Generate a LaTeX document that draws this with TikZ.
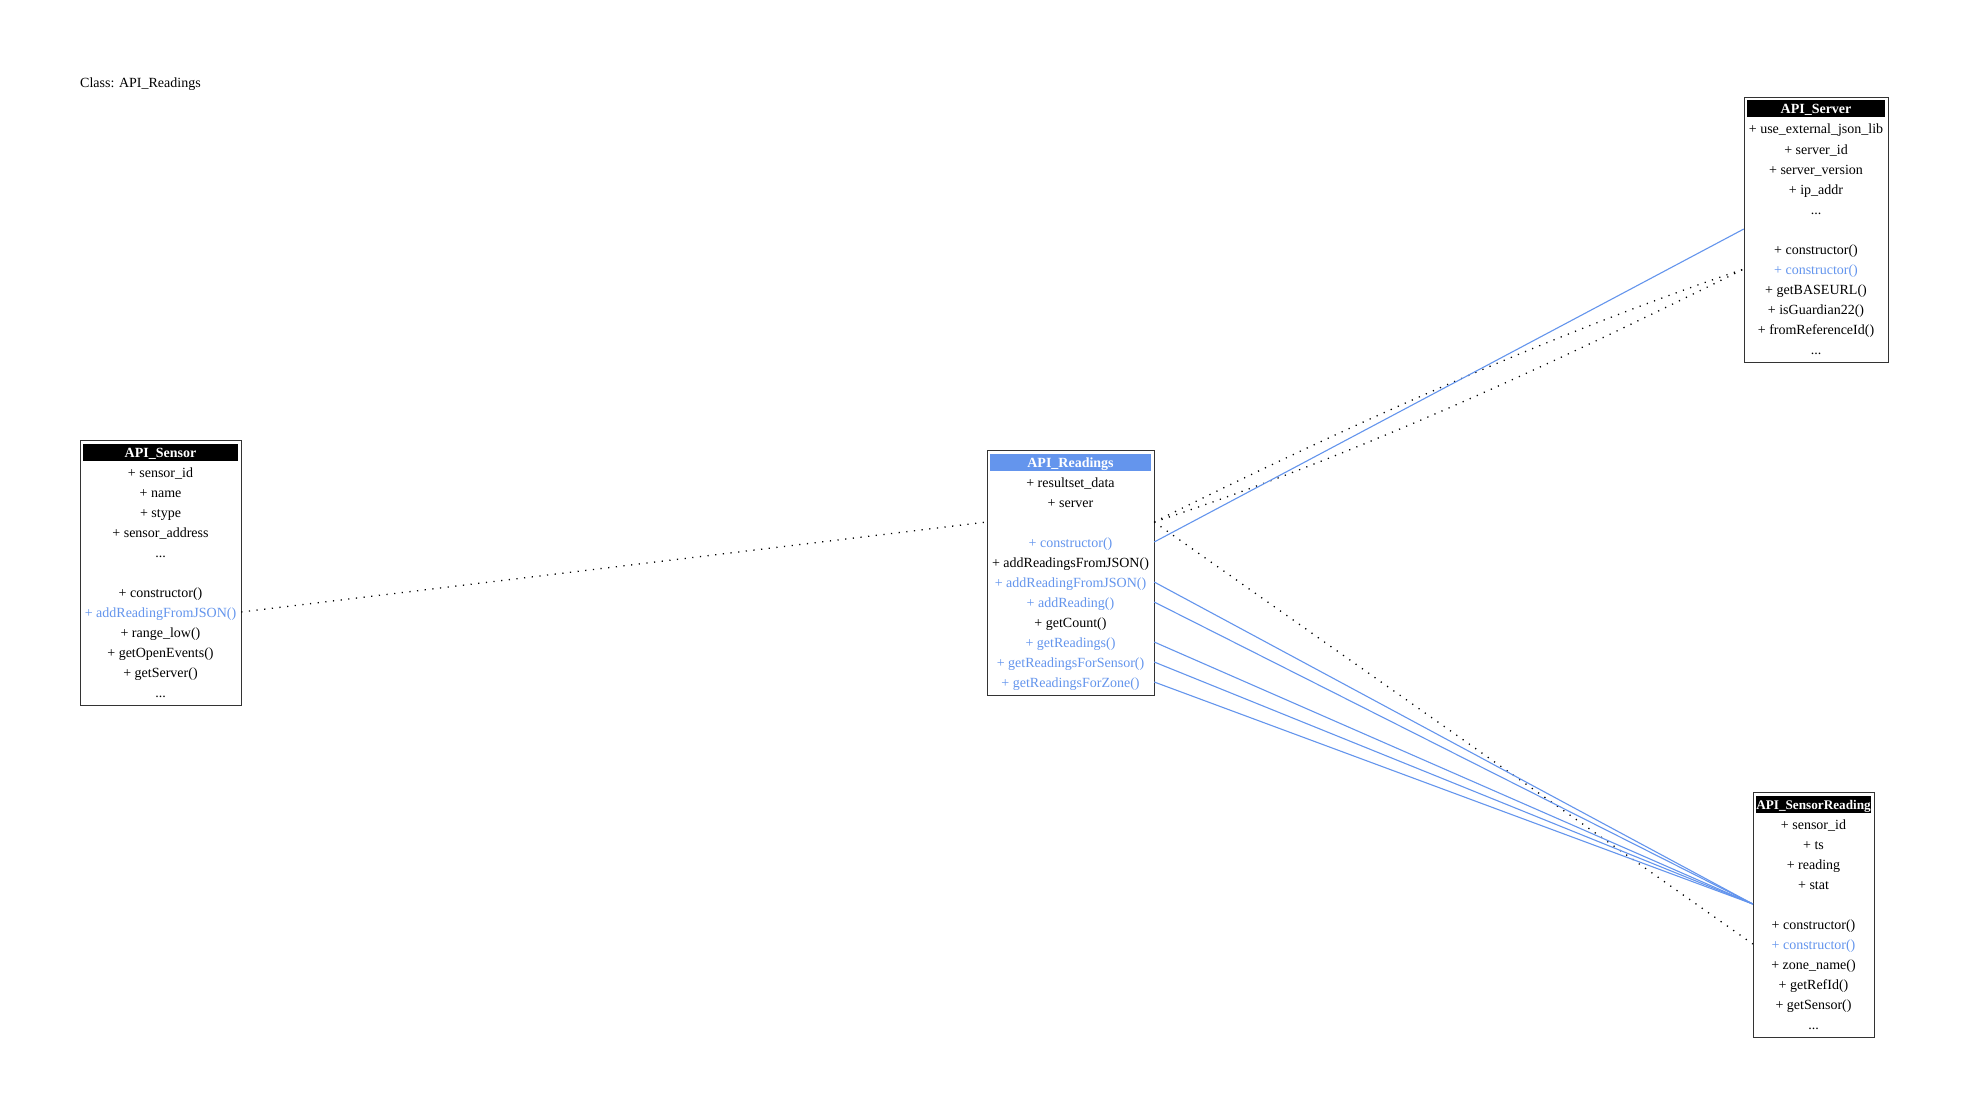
\documentclass[tikz,border=0pt]{standalone}
\usepackage{fontspec}
\setmainfont{Liberation Serif}
\definecolor{cblue}{HTML}{6495ED}
\definecolor{boxline}{HTML}{333333}
\begin{document}
\begin{tikzpicture}[x=1pt,y=-1pt,
  every node/.style={font=\fontsize{14}{16}\selectfont, inner sep=0pt, text height=10pt, text depth=0pt},
  cbox/.style={draw=boxline, line width=1.2pt, fill=white},
  row/.style={minimum height=20pt, align=center},
  hdr/.style={minimum height=17pt, text=white, font=\fontsize{14}{16}\selectfont\bfseries},
  dotline/.style={line width=1.3pt, dash pattern=on 1.2pt off 6.5pt, black},
  blueline/.style={line width=1.1pt, cblue}
]
\useasboundingbox (0,0) rectangle (1967,1113);
\fill[white] (0,0) rectangle (1967,1113);

\node[anchor=west] (title) at (80,83) {Class: API\_Readings};

% ---------- API_Sensor ----------
\node[cbox, minimum width=161pt, minimum height=265pt, anchor=north west] (sensor) at (80,440) {};
\node[hdr, fill=black, minimum width=155pt] (s0) at (160.5,452) {API\_Sensor};
\begin{scope}[every node/.append style={row, minimum width=161pt}]
\node (s1) at (160.5,472) {+ sensor\_id};
\node (s2) at (160.5,492) {+ name};
\node (s3) at (160.5,512) {+ stype};
\node (s4) at (160.5,532) {+ sensor\_address};
\node (s5) at (160.5,552) {...};
\node (s6) at (160.5,572) {};
\node (s7) at (160.5,592) {+ constructor()};
\node[text=cblue] (s8) at (160.5,612) {+ addReadingFromJSON()};
\node (s9) at (160.5,632) {+ range\_low()};
\node (s10) at (160.5,652) {+ getOpenEvents()};
\node (s11) at (160.5,672) {+ getServer()};
\node (s12) at (160.5,692) {...};
\end{scope}

% ---------- API_Readings ----------
\node[cbox, minimum width=167pt, minimum height=245pt, anchor=north west] (readings) at (987,450) {};
\node[hdr, fill=cblue, minimum width=161pt] (r0) at (1070.5,462) {API\_Readings};
\begin{scope}[every node/.append style={row, minimum width=167pt}]
\node (r1) at (1070.5,482) {+ resultset\_data};
\node (r2) at (1070.5,502) {+ server};
\node (r3) at (1070.5,522) {};
\node[text=cblue] (r4) at (1070.5,542) {+ constructor()};
\node (r5) at (1070.5,562) {+ addReadingsFromJSON()};
\node[text=cblue] (r6) at (1070.5,582) {+ addReadingFromJSON()};
\node[text=cblue] (r7) at (1070.5,602) {+ addReading()};
\node (r8) at (1070.5,622) {+ getCount()};
\node[text=cblue] (r9) at (1070.5,642) {+ getReadings()};
\node[text=cblue] (r10) at (1070.5,662) {+ getReadingsForSensor()};
\node[text=cblue] (r11) at (1070.5,682) {+ getReadingsForZone()};
\end{scope}

% ---------- API_Server ----------
\node[cbox, minimum width=144pt, minimum height=265pt, anchor=north west] (server) at (1744,97) {};
\node[hdr, fill=black, minimum width=138pt] (v0) at (1816,109) {API\_Server};
\begin{scope}[every node/.append style={row, minimum width=144pt}]
\node (v1) at (1816,129) {+ use\_external\_json\_lib};
\node (v2) at (1816,149) {+ server\_id};
\node (v3) at (1816,169) {+ server\_version};
\node (v4) at (1816,189) {+ ip\_addr};
\node (v5) at (1816,209) {...};
\node (v6) at (1816,229) {};
\node (v7) at (1816,249) {+ constructor()};
\node[text=cblue] (v8) at (1816,269) {+ constructor()};
\node (v9) at (1816,289) {+ getBASEURL()};
\node (v10) at (1816,309) {+ isGuardian22()};
\node (v11) at (1816,329) {+ fromReferenceId()};
\node (v12) at (1816,349) {...};
\end{scope}

% ---------- API_SensorReading ----------
\node[cbox, minimum width=121pt, minimum height=245pt, anchor=north west] (sreading) at (1753,792) {};
\node[hdr, fill=black, minimum width=115pt, font=\fontsize{13.2}{16}\selectfont\bfseries] (t0) at (1813.5,804) {API\_SensorReading};
\begin{scope}[every node/.append style={row, minimum width=121pt}]
\node (t1) at (1813.5,824) {+ sensor\_id};
\node (t2) at (1813.5,844) {+ ts};
\node (t3) at (1813.5,864) {+ reading};
\node (t4) at (1813.5,884) {+ stat};
\node (t5) at (1813.5,904) {};
\node (t6) at (1813.5,924) {+ constructor()};
\node[text=cblue] (t7) at (1813.5,944) {+ constructor()};
\node (t8) at (1813.5,964) {+ zone\_name()};
\node (t9) at (1813.5,984) {+ getRefId()};
\node (t10) at (1813.5,1004) {+ getSensor()};
\node (t11) at (1813.5,1024) {...};
\end{scope}

% ---------- connectors ----------
\draw[dotline] (s8.east) -- (r3.west);
\draw[dotline] (r3.east) .. controls +(197,-98) and +(-197,67) .. (v8.west);
\draw[dotline] (r3.east) .. controls +(197,-65) and +(-197,98) .. (v8.west);
\draw[dotline] (r3.east) -- (t7.west);
\draw[blueline] (r4.east) -- (v6.west);
\draw[blueline] (r6.east) -- (t5.west);
\draw[blueline] (r7.east) -- (t5.west);
\draw[blueline] (r9.east) -- (t5.west);
\draw[blueline] (r10.east) -- (t5.west);
\draw[blueline] (r11.east) -- (t5.west);
\end{tikzpicture}
\end{document}
